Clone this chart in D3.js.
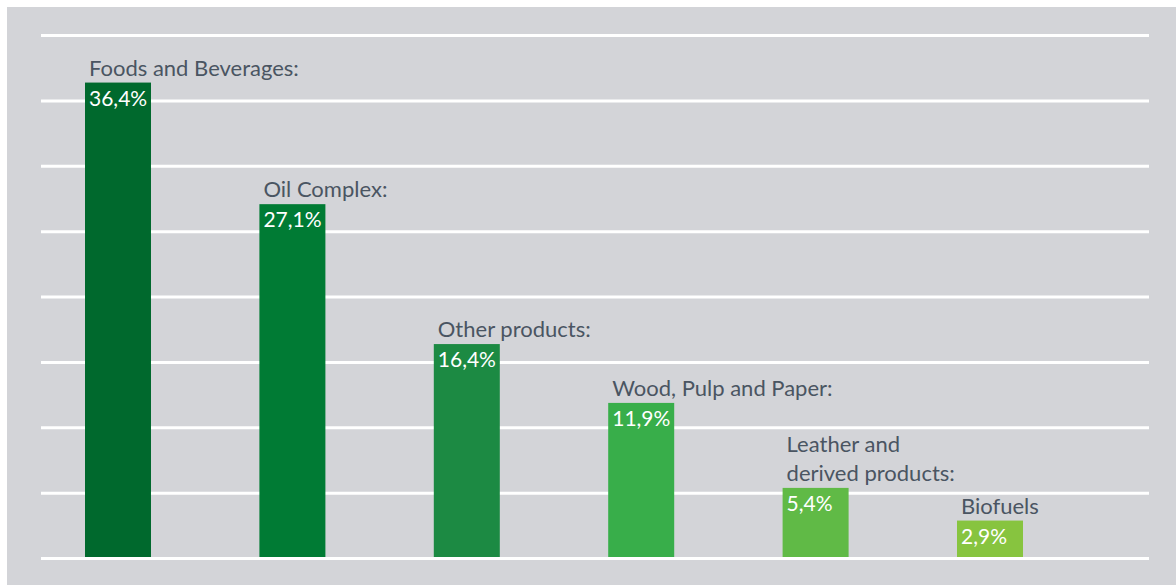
<!DOCTYPE html>
<html><head><meta charset="utf-8">
<script src="https://cdn.jsdelivr.net/npm/d3@7"></script>
<style>html,body{margin:0;padding:0;background:#fff;}svg{display:block;}</style>
</head><body>
<svg id="c" width="1176" height="585"></svg>
<script>
const categories = [["Foods and Beverages:"],["Oil Complex:"],["Other products:"],["Wood, Pulp and Paper:"],["Leather and","derived products:"],["Biofuels"]];
const values = [36.4, 27.1, 16.4, 11.9, 5.4, 2.9];
const valueLabels = ["36,4%","27,1%","16,4%","11,9%","5,4%","2,9%"];
const gridTicks = [0,5,10,15,20,25,30,35,40];
const colors = ["#00692d","#007b34","#1c8a43","#38ae4a","#60ba46","#87c43f"];

const svg = d3.select("#c");
svg.append("rect").attr("x",7).attr("y",7).attr("width",1169).attr("height",578).attr("fill","#d3d4d8");

const y = d3.scaleLinear().domain([0,40]).range([558.5,35.5]);
const x = d3.scaleBand().domain(d3.range(values.length)).range([85,1023]).paddingInner(0.6216).paddingOuter(0).align(0);

svg.append("g").selectAll("line").data(gridTicks).join("line")
  .attr("x1",41).attr("x2",1149).attr("y1",d=>y(d)).attr("y2",d=>y(d))
  .attr("stroke","#fff").attr("stroke-width",3);

const font = "Lato, 'Open Sans', sans-serif";
const g = svg.append("g").selectAll("g").data(values).join("g");
g.append("rect").attr("x",(d,i)=>x(i)).attr("width",x.bandwidth())
  .attr("y",d=>y(d)).attr("height",d=>y(0)-1.5-y(d)).attr("fill",(d,i)=>colors[i]);
g.append("text").attr("x",(d,i)=>x(i)+4).attr("y",d=>y(d)+23)
  .attr("fill","#fff").attr("font-family",font).attr("font-size",21).text((d,i)=>valueLabels[i]);
g.each(function(d,i){
  const lines = categories[i];
  const t = d3.select(this).append("text").attr("font-family",font).attr("font-size",22).attr("fill","#4a5562");
  lines.forEach((l,k)=>{
    t.append("tspan").attr("x",x(i)+4).attr("y",y(d)-7-(lines.length-1-k)*29).text(l);
  });
});
</script>
</body></html>
